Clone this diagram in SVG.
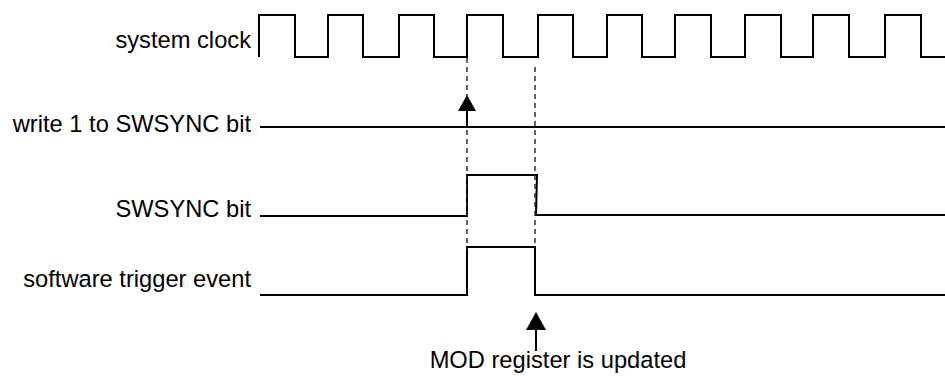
<svg xmlns="http://www.w3.org/2000/svg" width="945" height="376" viewBox="0 0 945 376">
<style>
.lbl{font-family:"Liberation Sans",Arial,Helvetica,sans-serif;font-size:23.7px;fill:#000}
.sig{fill:none;stroke:#000;stroke-width:2;stroke-linejoin:miter}
.dash{fill:none;stroke:#222;stroke-width:1.4;stroke-dasharray:5,4}
.arr{stroke:#000;stroke-width:2;fill:none}
</style>
<rect width="945" height="376" fill="#fff"/>
<g id="clock">
<text class="lbl" x="251" y="48" text-anchor="end">system clock</text>
<path class="sig" d="M259,57 V15 H295 V57 H328 V15 H363 V57 H399 V15 H434 V57 H467 V15 H503 V57 H538 V15 H573 V57 H607 V15 H642 V57 H675 V15 H711 V57 H745 V15 H781 V57 H813 V15 H849 V57 H885 V15 H921 V57 H945"/>
</g>
<g id="write1">
<text class="lbl" x="251" y="132" text-anchor="end">write 1 to SWSYNC bit</text>
<path class="sig" d="M260,127 H945"/>
</g>
<g id="swsync">
<text class="lbl" x="251" y="217" text-anchor="end">SWSYNC bit</text>
<path class="sig" d="M260,216 H467 V175 H537 L536,215 H945"/>
</g>
<g id="trigger">
<text class="lbl" x="251" y="287" text-anchor="end">software trigger event</text>
<path class="sig" d="M260,295 H467 V247 H535 V295 H945"/>
</g>
<g id="connectors">
<path class="dash" d="M467,58 V250"/>
<path class="dash" d="M535,67 V248"/>
<path class="arr" d="M467,110 V127"/>
<polygon points="467,95 458,111 476,111" fill="#000"/>
<path class="arr" d="M536,329 V351"/>
<polygon points="536,312 526,330 546,330" fill="#000"/>
</g>
<g id="note">
<text class="lbl" x="558" y="368" text-anchor="middle">MOD register is updated</text>
</g>
</svg>
